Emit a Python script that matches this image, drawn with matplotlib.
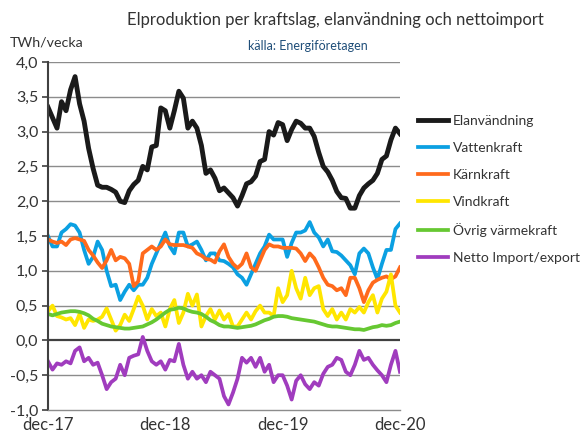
import matplotlib
matplotlib.use('Agg')
import matplotlib.pyplot as plt
import numpy as np

plt.rcParams['font.family'] = ['Lato', 'DejaVu Sans']

# Biweekly values, dec-17 .. dec-20 (TWh/vecka)
weeks = np.arange(0, 157, 2)

elanvandning = [3.35, 3.2, 3.05, 3.43, 3.3, 3.6, 3.79, 3.4, 3.15, 2.76,
                2.47, 2.23, 2.2, 2.2, 2.17, 2.13, 2.0, 1.98, 2.15, 2.24,
                2.3, 2.5, 2.45, 2.78, 2.8, 3.34, 3.3, 3.05, 3.3, 3.58,
                3.48, 3.05, 3.15, 3.05, 2.8, 2.4, 2.45, 2.33, 2.15, 2.19,
                2.12, 2.05, 1.93, 2.08, 2.25, 2.28, 2.36, 2.57, 2.6, 3.0,
                2.95, 3.13, 3.1, 2.87, 3.03, 3.15, 3.12, 3.05, 3.05, 2.93,
                2.7, 2.5, 2.42, 2.3, 2.14, 2.05, 2.04, 1.9, 1.9, 2.08,
                2.19, 2.25, 2.3, 2.4, 2.6, 2.65, 2.88, 3.05, 2.97]

vattenkraft = [1.5, 1.35, 1.35, 1.55, 1.6, 1.67, 1.65, 1.55, 1.3, 1.1,
               1.2, 1.42, 1.3, 1.0, 0.78, 0.8, 0.58, 0.7, 0.8, 0.72,
               0.8, 0.8, 0.9, 1.1, 1.25, 1.4, 1.55, 1.35, 1.25, 1.55,
               1.55, 1.35, 1.38, 1.42, 1.3, 1.15, 1.25, 1.25, 1.15, 1.14,
               1.1, 1.05, 0.95, 0.9, 0.8, 0.95, 1.1, 1.25, 1.35, 1.52,
               1.45, 1.45, 1.45, 1.2, 1.4, 1.55, 1.55, 1.58, 1.7, 1.55,
               1.48, 1.35, 1.45, 1.28, 1.27, 1.22, 1.15, 1.08, 0.95, 1.25,
               1.32, 1.25, 1.05, 0.88, 1.1, 1.3, 1.3, 1.6, 1.68]

karnkraft = [1.45, 1.42, 1.4, 1.42, 1.37, 1.45, 1.47, 1.45, 1.43, 1.3,
             1.22, 1.12, 1.04, 1.15, 1.3, 1.15, 1.2, 1.18, 1.1, 0.78,
             0.85, 1.25, 1.3, 1.35, 1.3, 1.35, 1.45, 1.38, 1.37, 1.37,
             1.37, 1.35, 1.33, 1.25, 1.22, 1.17, 1.16, 1.12, 1.28, 1.38,
             1.2, 1.1, 1.04, 1.1, 1.25, 1.05, 1.0, 1.15, 1.3, 1.38,
             1.35, 1.35, 1.33, 1.33, 1.33, 1.32, 1.25, 1.14, 1.25, 1.18,
             1.05, 0.9, 0.8, 0.78, 0.72, 0.75, 0.65, 0.9, 0.9, 0.75,
             0.55, 0.72, 0.83, 0.87, 0.9, 0.92, 0.88, 0.92, 1.05]

vindkraft = [0.42, 0.5, 0.35, 0.33, 0.3, 0.32, 0.22, 0.38, 0.18, 0.3,
             0.28, 0.3, 0.34, 0.46, 0.3, 0.14, 0.22, 0.37, 0.28, 0.45,
             0.63, 0.5, 0.3, 0.45, 0.35, 0.4, 0.2, 0.45, 0.58, 0.25,
             0.4, 0.67, 0.5, 0.66, 0.2, 0.35, 0.45, 0.3, 0.43, 0.3,
             0.38, 0.2, 0.2, 0.3, 0.4, 0.3, 0.42, 0.5, 0.4, 0.4,
             0.35, 0.75, 0.55, 0.65, 1.0, 0.75, 0.6, 0.9, 0.65, 0.75,
             0.78, 0.45, 0.35, 0.45, 0.3, 0.4, 0.3, 0.45, 0.4, 0.48,
             0.4, 0.55, 0.65, 0.4, 0.6, 0.7, 0.95, 0.5, 0.4]

ovrig_varme = [0.38, 0.36, 0.38, 0.4, 0.41, 0.42, 0.42, 0.41, 0.39, 0.36,
               0.31, 0.28, 0.24, 0.22, 0.2, 0.19, 0.18, 0.17, 0.17, 0.18,
               0.19, 0.2, 0.23, 0.26, 0.3, 0.35, 0.4, 0.44, 0.45, 0.47,
               0.46, 0.43, 0.41, 0.4, 0.38, 0.34, 0.29, 0.26, 0.22, 0.2,
               0.2, 0.19, 0.18, 0.19, 0.2, 0.21, 0.23, 0.26, 0.29, 0.31,
               0.34, 0.35, 0.35, 0.34, 0.32, 0.31, 0.3, 0.29, 0.28, 0.27,
               0.25, 0.23, 0.21, 0.2, 0.2, 0.19, 0.18, 0.17, 0.16, 0.16,
               0.15, 0.17, 0.19, 0.2, 0.22, 0.21, 0.22, 0.25, 0.27]

netto = [-0.3, -0.42, -0.33, -0.35, -0.3, -0.33, -0.15, -0.1, -0.3, -0.25,
         -0.35, -0.32, -0.5, -0.7, -0.6, -0.55, -0.35, -0.5, -0.25, -0.22,
         -0.2, 0.05, -0.15, -0.3, -0.35, -0.3, -0.42, -0.28, -0.3, -0.05,
         -0.35, -0.55, -0.45, -0.55, -0.5, -0.6, -0.45, -0.5, -0.55, -0.8,
         -0.92, -0.75, -0.55, -0.25, -0.32, -0.25, -0.38, -0.25, -0.45, -0.35,
         -0.6, -0.5, -0.5, -0.65, -0.85, -0.58, -0.5, -0.63, -0.7, -0.6,
         -0.65, -0.48, -0.38, -0.35, -0.25, -0.28, -0.45, -0.5, -0.35, -0.15,
         -0.28, -0.25, -0.35, -0.43, -0.5, -0.6, -0.35, -0.15, -0.45]

series = [
    ('Elanvändning', elanvandning, '#1a1a1a', 3.5),
    ('Vattenkraft', vattenkraft, '#0ba0e2', 2.7),
    ('Kärnkraft', karnkraft, '#ff6a1c', 2.7),
    ('Vindkraft', vindkraft, '#ffe600', 2.7),
    ('Övrig värmekraft', ovrig_varme, '#66c832', 2.7),
    ('Netto Import/export', netto, '#a03cbe', 2.7),
]

xtick_pos = [0, 52, 104, 156]
xtick_labels = ['dec-17', 'dec-18', 'dec-19', 'dec-20']
ytick_vals = np.arange(-1.0, 4.01, 0.5)

fig = plt.figure(figsize=(5.81, 4.36), dpi=100)
ax = fig.add_axes([0.0826, 0.0596, 0.6058, 0.7982])

for label, vals, color, lw in series:
    ax.plot(weeks, vals, color=color, lw=lw, label=label, solid_joinstyle='round')

ax.set_xlim(0, 156)
ax.set_ylim(-1.0, 4.0)
ax.set_yticks(ytick_vals)
ax.set_yticklabels([f'{v:.1f}'.replace('.', ',') for v in ytick_vals])
ax.set_xticks(xtick_pos)
ax.set_xticklabels(xtick_labels)

for v in ytick_vals[1:]:
    ax.axhline(v, color='#404040' if v == 0 else '#8c8c8c',
               lw=1.6 if v == 0 else 1.0, zorder=0)

for s in ['top', 'right']:
    ax.spines[s].set_visible(False)
ax.spines['left'].set_color('#404040')
ax.spines['left'].set_linewidth(1.5)
ax.spines['bottom'].set_color('#8c8c8c')
ax.spines['bottom'].set_linewidth(1.0)
ax.tick_params(axis='y', length=4, width=1.2, color='#404040',
               labelsize=11.5, labelcolor='#333333', pad=3)
ax.tick_params(axis='x', length=0, labelsize=12, labelcolor='#333333', pad=5)

fig.text(0.578, 0.953, 'Elproduktion per kraftslag, elanvändning och nettoimport',
         ha='center', va='center', fontsize=12, color='#333333')
fig.text(0.53, 0.895, 'källa: Energiföretagen', ha='center', va='center',
         fontsize=9, color='#1f4e79')
fig.text(0.017, 0.903, 'TWh/vecka', ha='left', va='center',
         fontsize=10.3, color='#333333')

fig.legend(loc='upper left', bbox_to_anchor=(0.7195, 0.737), frameon=False,
           fontsize=10, handlelength=2.15, handletextpad=0.35,
           labelspacing=1.08, borderpad=0, borderaxespad=0,
           labelcolor='#333333')

fig.savefig('out.png', dpi=100)
